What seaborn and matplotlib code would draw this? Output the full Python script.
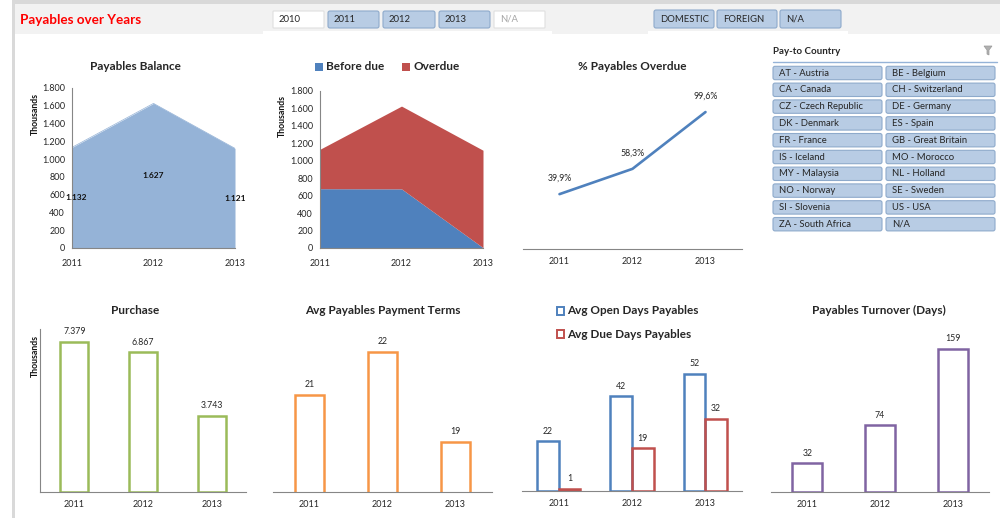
import numpy as np
import pandas as pd
import matplotlib
matplotlib.use("Agg")
import matplotlib.pyplot as plt
import seaborn as sns
from matplotlib.patches import Rectangle, FancyBboxPatch, Polygon
from matplotlib.ticker import FuncFormatter

# ---------------- data ----------------
years = ["2011", "2012", "2013"]
balance = [1132, 1627, 1121]          # thousands
before_due = [680, 678, 4]            # thousands
overdue = [452, 949, 1117]            # thousands
pct_overdue = [39.9, 58.3, 99.6]      # %
purchase = [7379, 6867, 3743]         # thousands
payment_terms = [20.6, 21.8, 19.3]    # days
open_days = [22, 42, 52]
due_days = [1, 19, 32]
turnover = [32, 74, 159]

header_years = ["2010", "2011", "2012", "2013", "N/A"]
header_years_selected = [False, True, True, True, False]
regions = ["DOMESTIC", "FOREIGN", "N/A"]
countries_left = ["AT - Austria", "CA - Canada", "CZ - Czech Republic", "DK - Denmark",
                  "FR - France", "IS - Iceland", "MY - Malaysia", "NO - Norway",
                  "SI - Slovenia", "ZA - South Africa"]
countries_right = ["BE - Belgium", "CH - Switzerland", "DE - Germany", "ES - Spain",
                   "GB - Great Britain", "MO - Morocco", "NL - Holland", "SE - Sweden",
                   "US - USA", "N/A"]

# ---------------- style ----------------
sns.set_style("white")
plt.rcParams["font.family"] = ["Lato", "DejaVu Sans"]

BLUE = "#4f81bd"
RED = "#c0504d"
LIGHT_BLUE = "#95b3d7"
GREEN = "#9bbb59"
ORANGE = "#f79646"
PURPLE = "#8064a2"
AXIS = "#868686"
TXT = "#262626"
BTN = "#b8cce4"
BTN_EDGE = "#8eaacb"

W, H = 1000, 518
fig = plt.figure(figsize=(W / 100, H / 100), dpi=100)
fig.patch.set_facecolor("white")


def frame(x0, y0, x1, y1):
    return [x0 / W, 1 - y1 / H, (x1 - x0) / W, (y1 - y0) / H]


def fx(x):
    return x / W


def fy(y):
    return 1 - y / H


def rect(x0, y0, x1, y1, color):
    fig.add_artist(Rectangle((fx(x0), fy(y1)), (x1 - x0) / W, (y1 - y0) / H,
                             transform=fig.transFigure, fc=color, ec="none", zorder=0))


def button(x0, y0, x1, y1, face, edge, r=2.0):
    fig.add_artist(FancyBboxPatch((x0 / 100, (H - y1) / 100), (x1 - x0) / 100, (y1 - y0) / 100,
                                  boxstyle=f"round,pad=0,rounding_size={r / 100}",
                                  transform=fig.dpi_scale_trans, fc=face, ec=edge, lw=0.8))


def dotted(v):
    return f"{v:,.0f}".replace(",", ".")


def style_axis(ax, left=True):
    for s in ["top", "right"]:
        ax.spines[s].set_visible(False)
    ax.spines["left"].set_visible(left)
    for s in ["left", "bottom"]:
        ax.spines[s].set_color(AXIS)
        ax.spines[s].set_linewidth(0.8)
    ax.tick_params(axis="both", which="both", colors=AXIS, labelcolor=TXT,
                   labelsize=6.5, length=3, width=0.8, pad=2)
    ax.set_xlabel("")
    ax.set_ylabel("")
    ax.grid(False)
    ax.patch.set_alpha(0)


def boundary_ticks(ax, n):
    ax.set_xlim(-0.5, n - 0.5)
    ax.set_xticks(np.arange(n + 1) - 0.5, [""] * (n + 1))
    ax.set_xticks(np.arange(n), years, minor=True)
    ax.tick_params(axis="x", which="minor", length=0, pad=6)
    ax.tick_params(axis="x", which="major", length=4)


# ---------------- header ----------------
rect(12, 0, 15, H, "#d9d9d9")
rect(12, 0, W, 4, "#d9d9d9")
rect(15, 4, W, 34, "#f2f2f2")
rect(263, 31, 552, 35, "white")
rect(648, 31, 848, 35, "white")
fig.text(fx(20), fy(20), "Payables over Years", color="#ff0000", fontsize=9.7,
         fontweight="bold", ha="left", va="center")

year_boxes = [(273, 324), (328, 379), (383, 435), (439, 490), (494, 545)]
for (x0, x1), lab, on in zip(year_boxes, header_years, header_years_selected):
    if on:
        button(x0, 11, x1, 28, BTN, BTN_EDGE)
        fig.text(fx(x0 + 6), fy(19.5), lab, fontsize=6.8, color=TXT, ha="left", va="center")
    else:
        button(x0, 11, x1, 28, "white", "#e0e0e0", r=0.5)
        fig.text(fx(x0 + 6), fy(19.5), lab, fontsize=6.8,
                 color="#a6a6a6" if lab == "N/A" else TXT, ha="left", va="center")

region_boxes = [(654, 714), (717, 777), (780, 841)]
for (x0, x1), lab in zip(region_boxes, regions):
    button(x0, 10, x1, 28, BTN, BTN_EDGE)
    fig.text(fx(x0 + 6), fy(19), lab, fontsize=6.8, color=TXT, ha="left", va="center")

# ---------------- country slicer ----------------
fig.text(fx(773), fy(52), "Pay-to Country", fontsize=7, fontweight="bold", color=TXT,
         ha="left", va="center")
fig.add_artist(Polygon([(fx(984), fy(46)), (fx(992), fy(46)), (fx(989), fy(50)),
                        (fx(989), fy(55)), (fx(987), fy(54)), (fx(987), fy(50))],
                       closed=True, transform=fig.transFigure, fc="#b0b0b0", ec="#9a9a9a", lw=0.5))
fig.add_artist(plt.Line2D([fx(773), fx(997)], [fy(61.5), fy(61.5)], color="#95b3d7", lw=1.0,
                          transform=fig.transFigure))
for i, (a, b) in enumerate(zip(countries_left, countries_right)):
    yc = 73 + i * 16.8
    for x0, x1, lab in [(773, 882, a), (886, 995, b)]:
        button(x0, yc - 6.7, x1, yc + 6.7, BTN, BTN_EDGE)
        fig.text(fx(x0 + 6), fy(yc), lab, fontsize=6.8, color=TXT, ha="left", va="center")

# ---------------- Payables Balance ----------------
x = np.arange(len(years))
ax1 = fig.add_axes(frame(72, 88, 235, 248))
ax1.fill_between(x, 0, balance, color=LIGHT_BLUE, lw=0)
sns.lineplot(x=x, y=balance, color=LIGHT_BLUE, lw=0.5, ax=ax1)
ax1.set_xlim(0, len(years) - 1)
ax1.set_ylim(0, 1800)
ax1.set_xticks(x, years)
ax1.set_yticks(np.arange(0, 1801, 200))
ax1.yaxis.set_major_formatter(FuncFormatter(lambda v, p: dotted(v)))
style_axis(ax1)
ax1.tick_params(axis="x", pad=5)
for i, v in enumerate(balance):
    shift = 3 if i == 0 else 0
    ax1.annotate(dotted(v), (i, v / 2), xytext=(shift, 0), textcoords="offset points",
                 ha="center", va="center", fontsize=6, fontweight="bold", color="#111111")
fig.text(fx(135), fy(67), "Payables Balance", ha="center", va="center", fontsize=8.5,
         fontweight="bold", color=TXT)
fig.text(fx(35), fy(114), "Thousands", rotation=90, ha="center", va="center", fontsize=6.3,
         fontweight="bold", color="#111111")

# ---------------- Before due / Overdue ----------------
ax2 = fig.add_axes(frame(320, 91, 483, 248))
stack_top = np.add(before_due, overdue)
ax2.fill_between(x, 0, before_due, color=BLUE, lw=0)
ax2.fill_between(x, before_due, stack_top, color=RED, lw=0)
ax2.set_xlim(0, len(years) - 1)
ax2.set_ylim(0, 1800)
ax2.set_xticks(x, years)
ax2.set_yticks(np.arange(0, 1801, 200))
ax2.yaxis.set_major_formatter(FuncFormatter(lambda v, p: dotted(v)))
style_axis(ax2)
ax2.tick_params(axis="x", pad=5)
fig.text(fx(282), fy(116), "Thousands", rotation=90, ha="center", va="center", fontsize=6.3,
         fontweight="bold", color="#111111")
rect(315, 63, 323, 71, BLUE)
fig.text(fx(326), fy(67), "Before due", ha="left", va="center", fontsize=8.5,
         fontweight="bold", color=TXT)
rect(402, 63, 410, 71, RED)
fig.text(fx(413), fy(67), "Overdue", ha="left", va="center", fontsize=8.5,
         fontweight="bold", color=TXT)

# ---------------- % Payables Overdue ----------------
ax3 = fig.add_axes(frame(523, 84, 742, 249))
sns.lineplot(x=x, y=pct_overdue, color=BLUE, lw=1.9, ax=ax3)
ax3.set_ylim(0, 120)
style_axis(ax3, left=False)
ax3.set_yticks([])
boundary_ticks(ax3, len(years))
for i, v in enumerate(pct_overdue):
    ax3.annotate(f"{v:.1f}%".replace(".", ","), (i, v), xytext=(0, 8),
                 textcoords="offset points", ha="center", va="bottom", fontsize=6.3, color=TXT)
fig.text(fx(632), fy(67), "% Payables Overdue", ha="center", va="center", fontsize=8.5,
         fontweight="bold", color=TXT)

# ---------------- Purchase ----------------
ax4 = fig.add_axes(frame(40, 329, 246, 492))
sns.barplot(x=years, y=purchase, fill=False, color=GREEN, linewidth=1.8, width=0.41,
            ax=ax4, errorbar=None)
ax4.set_ylim(0, 8000)
style_axis(ax4)
ax4.set_yticks(np.arange(0, 8001, 1000), [""] * 9)
boundary_ticks(ax4, len(years))
for c in ax4.containers:
    ax4.bar_label(c, fmt=dotted, padding=4, fontsize=6.3, color=TXT)
fig.text(fx(135), fy(310), "Purchase", ha="center", va="center", fontsize=8.5,
         fontweight="bold", color=TXT)
fig.text(fx(35), fy(356), "Thousands", rotation=90, ha="center", va="center", fontsize=6.3,
         fontweight="bold", color="#111111")

# ---------------- Avg Payables Payment Terms ----------------
ax5 = fig.add_axes(frame(273, 330, 492, 492))
sns.barplot(x=years, y=payment_terms, fill=False, color=ORANGE, linewidth=1.8, width=0.41,
            ax=ax5, errorbar=None)
ax5.set_ylim(17.9, 22.4)
style_axis(ax5, left=False)
ax5.set_yticks([])
boundary_ticks(ax5, len(years))
for c in ax5.containers:
    ax5.bar_label(c, fmt="{:.0f}", padding=4, fontsize=6.3, color=TXT)
fig.text(fx(383), fy(310), "Avg Payables Payment Terms", ha="center", va="center",
         fontsize=8.5, fontweight="bold", color=TXT)

# ---------------- Avg Open / Due Days ----------------
days = pd.DataFrame({
    "year": years * 2,
    "days": open_days + due_days,
    "series": ["Avg Open Days Payables"] * len(years) + ["Avg Due Days Payables"] * len(years),
})
ax6 = fig.add_axes(frame(522, 333, 742, 491))
sns.barplot(data=days, x="year", y="days", hue="series", palette=[BLUE, RED], fill=False,
            linewidth=1.8, width=0.59, gap=0, legend=False, ax=ax6, errorbar=None)
ax6.set_ylim(0, 70)
style_axis(ax6, left=False)
ax6.set_yticks([])
boundary_ticks(ax6, len(years))
for c in ax6.containers:
    ax6.bar_label(c, fmt="{:.0f}", padding=4, fontsize=6.3, color=TXT)
for yc, col, lab in [(311, BLUE, "Avg Open Days Payables"), (334, RED, "Avg Due Days Payables")]:
    fig.add_artist(Rectangle((fx(557), fy(yc + 4)), 7 / W, 8 / H, transform=fig.transFigure,
                             fc="white", ec=col, lw=1.4))
    fig.text(fx(567), fy(yc), lab, ha="left", va="center", fontsize=8.5, fontweight="bold",
             color=TXT)

# ---------------- Payables Turnover ----------------
ax7 = fig.add_axes(frame(771, 330, 989, 492))
sns.barplot(x=years, y=turnover, fill=False, color=PURPLE, linewidth=1.8, width=0.41,
            ax=ax7, errorbar=None)
ax7.set_ylim(0, 180)
style_axis(ax7, left=False)
ax7.set_yticks([])
boundary_ticks(ax7, len(years))
for c in ax7.containers:
    ax7.bar_label(c, fmt="{:.0f}", padding=4, fontsize=6.3, color=TXT)
fig.text(fx(879), fy(310), "Payables Turnover (Days)", ha="center", va="center",
         fontsize=8.5, fontweight="bold", color=TXT)

fig.savefig("out.png", dpi=100)
